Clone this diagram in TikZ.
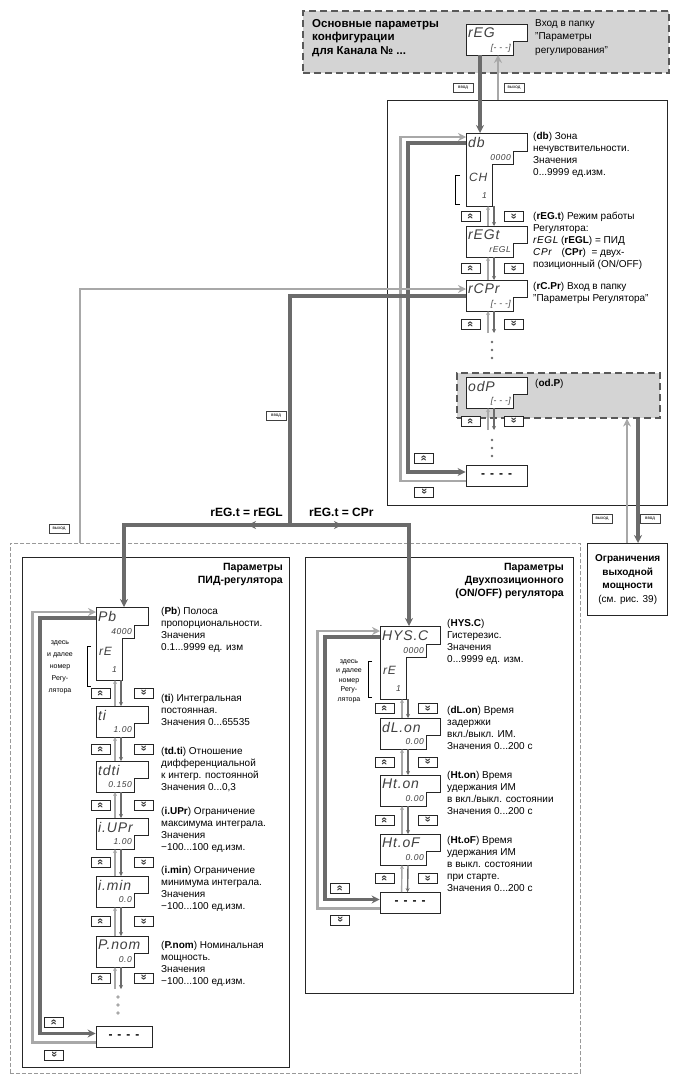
\documentclass[tikz,border=0pt]{standalone}
\usepackage{fontspec}
\usepackage{graphicx}
\setmainfont{Liberation Sans}
\newfontfamily\lcdfont{Liberation Sans}[LetterSpace=6]
\usetikzlibrary{arrows.meta}

\definecolor{pathdark}{gray}{0.42}
\definecolor{pathlight}{gray}{0.66}

% indicator window: upper and lower row
\newcommand{\lcdwin}[6]{%
  \draw[lcdframe] (#2,#3) -- ++(#4,0) -- ++(0,17) -- ++(-14,0) -- ++(0,14)
    -- (#2,#3+31) -- cycle;
  \node[lcdbig, anchor=west] (#1) at (#2+2,#3+9) {#5};
  \node[lcdsmall, anchor=east] (#1-lo) at (#2+#4-16,#3+24) {#6};
  \coordinate (#1-tl) at (#2,#3);
  \coordinate (#1-bl) at (#2,#3+31);
}
% indicator window with channel number
\newcommand{\lcdwinch}[8]{%
  \draw[lcdframe] (#2,#3) -- ++(#4,0) -- ++(0,18) -- ++(-14,0) -- ++(0,13)
    -- (#2+26,#3+31) -- (#2+26,#3+73) -- (#2,#3+73) -- cycle;
  \node[lcdbig, anchor=west] (#1) at (#2+2,#3+9.5) {#5};
  \node[lcdsmall, anchor=east] (#1-lo) at (#2+#4-16,#3+24.5) {#6};
  \node[lcdmid, anchor=west] (#1-ch) at (#2+3,#3+44) {#7};
  \node[lcdsmall, anchor=east] (#1-no) at (#2+21,#3+63) {#8};
  \coordinate (#1-tl) at (#2,#3);
  \coordinate (#1-bl) at (#2,#3+73);
}
% up / down keys between two windows
\newcommand{\keypair}[3]{%
  \node[keybox] (#1u) at (#2+4.5,#3) {\rotatebox{90}{»}};
  \node[keybox] (#1d) at (#2+47.5,#3) {\rotatebox{-90}{»}};
}

\begin{document}
\begin{tikzpicture}[x=1pt, y=-1pt,
    lcdframe/.style={draw=black!85, fill=white, line width=0.8pt},
    lcdbig/.style={inner sep=0pt, text=black!75, font=\lcdfont\itshape\fontsize{14}{14}\selectfont},
    lcdmid/.style={inner sep=0pt, text=black!75, font=\lcdfont\itshape\fontsize{12}{12}\selectfont},
    lcdsmall/.style={inner sep=0pt, text=black!75, font=\lcdfont\itshape\fontsize{8.5}{8.5}\selectfont},
    dashbox/.style={draw=black!85, fill=white, line width=0.8pt, minimum height=21pt, inner sep=0pt,
        font=\bfseries\fontsize{12}{12}\selectfont},
    keybox/.style={draw=black!85, fill=white, line width=0.8pt, minimum width=19pt, minimum height=10pt,
        inner sep=0pt, text=black!80, font=\bfseries\fontsize{11}{11}\selectfont},
    desctext/.style={anchor=north west, inner sep=0pt, align=left, font=\fontsize{10}{12}\selectfont},
    headtext/.style={inner sep=0pt, font=\bfseries\fontsize{10.5}{13}\selectfont},
    notetext/.style={inner sep=0pt, align=center, font=\fontsize{7}{12}\selectfont},
    tagbox/.style={draw=black!75, fill=white, line width=0.6pt, inner sep=0.5pt, minimum width=20pt,
        minimum height=9pt, font=\fontsize{4.5}{5}\selectfont},
    panelbox/.style={draw=black!85, line width=1.4pt, anchor=north west, inner sep=0pt},
    greybox/.style={draw=black!65, fill=black!17, line width=1.6pt, dash pattern=on 7pt off 4pt,
        anchor=north west, inner sep=0pt},
    darkpath/.style={draw=pathdark, line width=3.2pt},
    lightpath/.style={draw=pathlight, line width=2.6pt},
    thindown/.style={draw=pathdark, line width=1.4pt, -{Stealth[length=4pt,width=4pt]}},
    thinup/.style={draw=pathlight, line width=1.4pt, -{Stealth[length=4pt,width=4pt]}},
    >={Stealth[length=8pt,width=8pt]}]

    \useasboundingbox (0,0) rectangle (672,1076);

    % frames
    \node[greybox, minimum width=366pt, minimum height=62pt] (hdr) at (302,10) {};
    \node[panelbox, minimum width=280pt, minimum height=405pt] (upanel) at (387,100) {};
    \node[draw=black!40, line width=0.8pt, dash pattern=on 4pt off 2pt, anchor=north west,
        minimum width=570pt, minimum height=530pt] (outer) at (10,543) {};
    \node[panelbox, minimum width=267pt, minimum height=510pt] (pidpanel) at (22,557) {};
    \node[panelbox, minimum width=268pt, minimum height=436pt] (onoffpanel) at (305,557) {};
    \node[panelbox, minimum width=80pt, minimum height=72pt, align=center,
        font=\fontsize{10}{13.5}\selectfont] (limit) at (587,543)
        {\textbf{Ограничения}\\\textbf{выходной}\\\textbf{мощности}\\(см. рис. 39)};
    \node[greybox, minimum width=203pt, minimum height=45pt] (odpbox) at (456,372) {};

    % header
    \node[headtext, anchor=north west, align=left, font=\bfseries\fontsize{11.5}{13.5}\selectfont] (h-main)
        at (312,19) {Основные параметры\\конфигурации\\для Канала № ...};
    \lcdwin{reg}{466}{24}{61}{rEG}{{[}- - -{]}}
    \node[desctext, font=\fontsize{10}{13.5}\selectfont] (t-reg) at (535,19)
        {Вход в папку\\"Параметры\\регулирования"};

    % upper menu
    \lcdwinch{db}{466}{133}{61}{db}{0000}{CH}{1}
    \keypair{k1}{466}{216.5}
    \lcdwin{regt}{466}{226}{61}{rEGt}{rEGL}
    \keypair{k2}{466}{268.5}
    \lcdwin{rcpr}{466}{280}{61}{rCPr}{{[}- - -{]}}
    \keypair{k3}{466}{324}
    \lcdwin{odp}{466}{377}{61}{odP}{{[}- - -{]}}
    \keypair{k4}{466}{421}
    \node[dashbox, minimum width=61pt] (udash) at (496.5,475.5) {-\hspace{5pt}-\hspace{5pt}-\hspace{5pt}-};
    \node[keybox] (uup) at (424,458) {\rotatebox{90}{»}};
    \node[keybox] (udn) at (424,492) {\rotatebox{-90}{»}};
    \draw[line width=1pt] (460,175) -- (455,175) -- (455,204) -- (460,204);

    \node[desctext] (t-db) at (533,132) {(\textbf{db}) Зона\\нечувствительности.\\Значения\\0...9999 ед.изм.};
    \node[desctext] (t-regt) at (533,212) {(\textbf{rEG.t}) Режим работы\\Регулятора:\\{\lcdfont\itshape rEGL} (\textbf{rEGL}) = ПИД\\{\lcdfont\itshape CPr}\quad(\textbf{CPr})\ \ = двух-\\позиционный (ON/OFF)};
    \node[desctext] (t-rcpr) at (533,282) {(\textbf{rC.Pr}) Вход в папку\\"Параметры Регулятора"};
    \node[desctext] (t-odp) at (535,379) {(\textbf{od.P})};

    % PID menu
    \node[headtext, anchor=north east, align=right] (h-pid) at (283,563) {Параметры\\ПИД-регулятора};
    \lcdwinch{pb}{96}{607}{52}{Pb}{4000}{rE}{1}
    \keypair{k5}{96}{693}
    \lcdwin{ti}{96}{706}{52}{ti}{1.00}
    \keypair{k6}{96}{749}
    \lcdwin{tdti}{96}{761}{52}{tdti}{0.150}
    \keypair{k7}{96}{805}
    \lcdwin{iupr}{96}{818}{52}{i.UPr}{1.00}
    \keypair{k8}{96}{862.5}
    \lcdwin{imin}{96}{876}{52}{i.min}{0.0}
    \keypair{k9}{96}{921.5}
    \lcdwin{pnom}{96}{936}{52}{P.nom}{0.0}
    \keypair{k10}{96}{978}
    \node[dashbox, minimum width=56pt] (ldash) at (124,1037) {-\hspace{5pt}-\hspace{5pt}-\hspace{5pt}-};
    \node[keybox] (lup) at (54,1022) {\rotatebox{90}{»}};
    \node[keybox] (ldn) at (54,1055) {\rotatebox{-90}{»}};
    \node[notetext] (n-pid) at (60,667) {здесь\\и далее\\номер\\Регу-\\лятора};
    \draw[line width=1pt] (91,646) -- (87,646) -- (87,686) -- (91,686);

    \node[desctext] (t-pb) at (161,607) {(\textbf{Pb}) Полоса\\пропорциональности.\\Значения\\0.1...9999 ед. изм};
    \node[desctext] (t-ti) at (161,694) {(\textbf{ti}) Интегральная\\постоянная.\\Значения 0...65535};
    \node[desctext] (t-tdti) at (161,747) {(\textbf{td.ti}) Отношение\\дифференциальной\\к интегр. постоянной\\Значения 0...0,3};
    \node[desctext] (t-iupr) at (161,807) {(\textbf{i.UPr}) Ограничение\\максимума интеграла.\\Значения\\−100...100 ед.изм.};
    \node[desctext] (t-imin) at (161,866) {(\textbf{i.min}) Ограничение\\минимума интеграла.\\Значения\\−100...100 ед.изм.};
    \node[desctext] (t-pnom) at (161,941) {(\textbf{P.nom}) Номинальная\\мощность.\\Значения\\−100...100 ед.изм.};

    % ON/OFF menu
    \node[headtext, anchor=north east, align=right] (h-onoff) at (564,563)
        {Параметры\\Двухпозиционного\\(ON/OFF) регулятора};
    \lcdwinch{hys}{380}{626}{60}{HYS.C}{0000}{rE}{1}
    \keypair{k11}{380}{708.5}
    \lcdwin{dlon}{380}{718}{60}{dL.on}{0.00}
    \keypair{k12}{380}{762}
    \lcdwin{hton}{380}{775}{60}{Ht.on}{0.00}
    \keypair{k13}{380}{820}
    \lcdwin{htof}{380}{834}{60}{Ht.oF}{0.00}
    \keypair{k14}{380}{878.5}
    \node[dashbox, minimum width=60pt] (rdash) at (410,903) {-\hspace{5pt}-\hspace{5pt}-\hspace{5pt}-};
    \node[keybox] (rup) at (340,888) {\rotatebox{90}{»}};
    \node[keybox] (rdn) at (340,920) {\rotatebox{-90}{»}};
    \node[notetext, font=\fontsize{7}{9.5}\selectfont] (n-onoff) at (349,681) {здесь\\и далее\\номер\\Регу-\\лятора};
    \draw[line width=1pt] (372,661) -- (368,661) -- (368,697) -- (372,697);

    \node[desctext] (t-hys) at (447,619) {(\textbf{HYS.C})\\Гистерезис.\\Значения\\0...9999 ед. изм.};
    \node[desctext] (t-dlon) at (447,706) {(\textbf{dL.on}) Время\\задержки\\вкл./выкл. ИМ.\\Значения 0...200 с};
    \node[desctext] (t-hton) at (447,771) {(\textbf{Ht.on}) Время\\удержания ИМ\\в вкл./выкл. состоянии\\Значения 0...200 с};
    \node[desctext] (t-htof) at (447,836) {(\textbf{Ht.oF}) Время\\удержания ИМ\\в выкл. состоянии\\при старте.\\Значения 0...200 с};

    % steps between windows
    \foreach \a/\b in {db/regt, regt/rcpr, hys/dlon, dlon/hton, hton/htof} {
        \draw[thindown] ([xshift=28pt]\a-bl) -- ([xshift=28pt]\b-tl);
        \draw[thinup] ([xshift=22pt]\b-tl) -- ([xshift=22pt]\a-bl);
    }
    \foreach \a/\b in {pb/ti, ti/tdti, tdti/iupr, iupr/imin, imin/pnom} {
        \draw[thindown] ([xshift=25pt]\a-bl) -- ([xshift=25pt]\b-tl);
        \draw[thinup] ([xshift=19pt]\b-tl) -- ([xshift=19pt]\a-bl);
    }
    \draw[thindown] ([xshift=28pt]htof-bl) -- ([xshift=28pt]rdash.north west);
    \draw[thinup] ([xshift=22pt]rdash.north west) -- ([xshift=22pt]htof-bl);
    \foreach \a in {rcpr, odp} {
        \draw[thindown] ([xshift=28pt]\a-bl) -- ++(0,22);
        \draw[thinup] ([xshift=22pt]\a-bl) ++(0,22) -- ++(0,-22);
    }
    \draw[thindown] ([xshift=25pt]pnom-bl) -- ++(0,22);
    \draw[thinup] ([xshift=19pt]pnom-bl) ++(0,22) -- ++(0,-22);
    \foreach \d in {0,8,16} {
        \fill[pathdark] (492,342+\d) circle (1.4);
        \fill[pathdark] (492,440+\d) circle (1.4);
        \fill[pathlight] (118,997+\d) circle (1.9);
    }

    % loops first <-> last
    \draw[lightpath,->] ([yshift=-5.5pt]udash.west) -- ++(-65,0) |- ([yshift=-4pt]db-tl);
    \draw[darkpath,->] ([yshift=-10pt]db-tl) -- ++(-58,0) |- ([yshift=3.5pt]udash.west);
    \draw[lightpath,->] ([yshift=-5.5pt]ldash.west) -- ++(-63,0) |- ([yshift=-5pt]pb-tl);
    \draw[darkpath,->] ([yshift=-11pt]pb-tl) -- ++(-56,0) |- ([yshift=3.5pt]ldash.west);
    \draw[lightpath,->] ([yshift=-5.5pt]rdash.west) -- ++(-62,0) |- ([yshift=-5pt]hys-tl);
    \draw[darkpath,->] ([yshift=-11pt]hys-tl) -- ++(-55,0) |- ([yshift=3.5pt]rdash.west);

    % header <-> upper menu
    \draw[darkpath,->] ([xshift=14pt]reg-bl) -- ([xshift=14pt]db-tl);
    \draw[lightpath,->] ([xshift=111pt]upanel.north west) -- ([xshift=32pt]reg-bl);
    \node[tagbox] (in1) at (463,88) {ввод};
    \node[tagbox] (out1) at (514,88) {выход};

    % rC.Pr <-> regulator menus
    \coordinate (exit) at ([xshift=70pt]outer.north west);
    \coordinate (split) at (290,525);
    \draw[lightpath,->] (exit) |- ([yshift=-9pt]rcpr-tl);
    \draw[darkpath] ([yshift=-16pt]rcpr-tl) -| (split);
    \draw[darkpath,->] (split) -| ([xshift=28pt]pb-tl);
    \draw[darkpath,->] (split) -| ([xshift=29pt]hys-tl);
    \draw[darkpath,->] (split) -- ++(-42,0);
    \draw[darkpath,->] (split) -- ++(52,0);
    \node[tagbox] (in2) at (276,416) {ввод};
    \node[tagbox] (out2) at (59,529) {выход};
    \node[headtext, anchor=east, font=\bfseries\fontsize{12}{12}\selectfont] (l-pid) at (283,512) {rEG.t = rEGL};
    \node[headtext, anchor=west, font=\bfseries\fontsize{12}{12}\selectfont] (l-onoff) at (309,512) {rEG.t = CPr};

    % od.P <-> output limits
    \coordinate (limin) at ([xshift=40pt]limit.north west);
    \coordinate (limout) at ([xshift=51pt]limit.north west);
    \draw[lightpath,->] (limin) -- (limin |- odpbox.south);
    \draw[darkpath,->] (limout |- odpbox.south) -- (limout);
    \node[tagbox] (out3) at (602,519) {выход};
    \node[tagbox] (in3) at (650,519) {ввод};
\end{tikzpicture}
\end{document}
